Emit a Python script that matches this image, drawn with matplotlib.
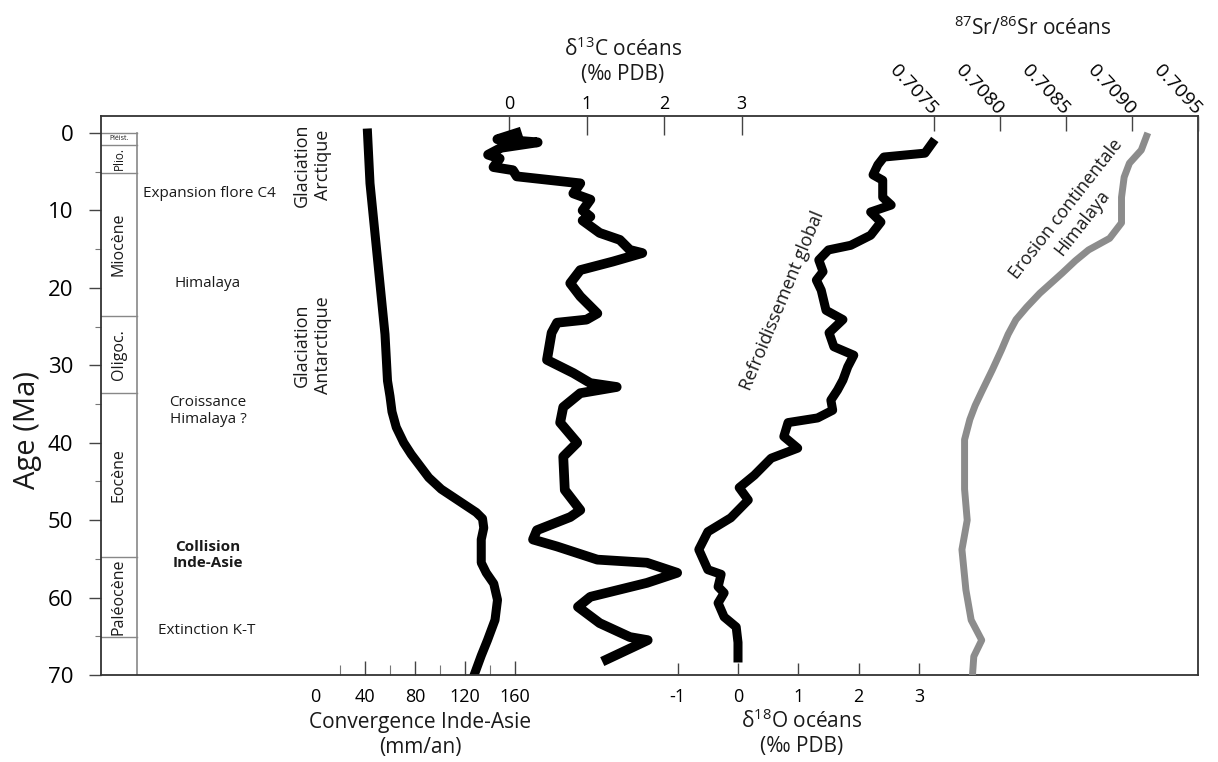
import numpy as np
import matplotlib.pyplot as plt
from matplotlib import transforms

plt.rcParams['font.family'] = ['Open Sans', 'DejaVu Sans']
plt.rcParams['mathtext.fontset'] = 'custom'
plt.rcParams['mathtext.rm'] = 'Open Sans'
plt.rcParams['text.color'] = '#1a1a1a'
plt.rcParams['axes.unicode_minus'] = False

# Convergence Inde-Asie (mm/an) vs age (Ma)
conv_age = [0, 6.5, 13, 19.5, 26, 32, 34, 36, 38, 40, 41.5, 43, 44.5, 46,
            47.5, 49, 49.8, 51, 52.5, 55.5, 56.8, 58.2, 60.3, 62.9, 65.5, 67.5,
            69.7]
conv_rate = [42, 44, 48, 52, 56, 58, 60, 61.6, 65, 71, 77, 84, 91, 101,
             115, 129, 134, 135, 133, 133, 137, 143, 146, 144, 138, 133, 128]

# delta 13C oceans (permil PDB)
d13c_age = [0.0, 0.8, 1.2, 1.9, 2.8, 3.3, 4.4, 4.8, 5.6, 6.5, 7.8, 8.6, 10.0,
            10.8, 11.3, 12.9, 13.8, 15.1, 15.5, 16.6, 17.7, 19.4, 21.1, 23.3,
            24.1, 24.5, 25.8, 29.3, 31.0, 32.3, 32.8, 33.6, 35.4, 37.4, 40.0,
            41.8, 46.1, 48.7, 49.6, 51.3, 52.5, 53.4, 55.1, 55.5, 56.8, 58.1,
            59.9, 61.2, 63.3, 65.1, 65.5, 66.4, 68.0]
d13c = [0.1, -0.15, 0.37, -0.1, -0.27, -0.12, -0.2, 0.05, 0.1, 0.92, 0.83,
        1.05, 0.95, 1.05, 0.95, 1.17, 1.43, 1.56, 1.72, 1.34, 0.92, 0.79, 0.92,
        1.14, 1.0, 0.62, 0.55, 0.49, 0.83, 1.05, 1.39, 0.92, 0.7, 0.66, 0.88,
        0.7, 0.72, 0.92, 0.79, 0.36, 0.31, 0.62, 1.14, 1.78, 2.17, 1.78, 1.05,
        0.89, 1.17, 1.56, 1.79, 1.6, 1.26]

# delta 18O oceans (permil PDB)
d18o_age = [1.3, 2.6, 3.1, 4.1, 5.4, 6.1, 8.3, 9.3, 10.2, 11.5, 13.2, 14.5,
            15.1, 16.4, 17.9, 19.0, 20.3, 22.9, 24.1, 25.8, 27.6, 28.7, 30.2,
            31.9, 33.2, 34.5, 35.8, 36.8, 37.4, 39.2, 40.7, 42.0, 44.2, 45.8,
            47.4, 49.7, 51.5, 53.8, 56.4, 57.0, 58.6, 59.4, 60.7, 62.5, 63.8,
            65.8, 67.8]
d18o = [3.22, 3.1, 2.42, 2.32, 2.24, 2.4, 2.4, 2.54, 2.2, 2.37, 2.2, 1.87,
        1.5, 1.34, 1.41, 1.3, 1.38, 1.46, 1.74, 1.51, 1.59, 1.92, 1.82, 1.74,
        1.65, 1.54, 1.57, 1.32, 0.83, 0.76, 0.99, 0.55, 0.27, 0.02, 0.17,
        -0.12, -0.5, -0.65, -0.5, -0.28, -0.33, -0.23, -0.33, -0.23, -0.03,
        0.0, 0.0]

# 87Sr/86Sr oceans
sr_age = [0.4, 2.2, 3.9, 5.7, 8.3, 11.6, 13.6, 15.1, 16.5, 18.1, 20.7, 22.5,
          24.1, 26.0, 28.0, 30.6, 33.4, 35.2, 37.0, 39.6, 46.0, 50.0, 53.8,
          59.0, 62.9, 65.5, 67.6, 70.0]
sr = [0.70911, 0.70907, 0.70898, 0.70894, 0.70892, 0.70892, 0.70883, 0.70867,
      0.70857, 0.70847, 0.70830, 0.70820, 0.70812, 0.70806, 0.70801, 0.70794,
      0.70786, 0.70781, 0.70777, 0.70773, 0.70773, 0.70775, 0.70771, 0.70774,
      0.70778, 0.70786, 0.70780, 0.70779]

# geological epochs (boundaries in Ma)
epoch_bounds = [0, 1.5, 5.1, 23.6, 33.6, 54.7, 65.1, 70]
epoch_names = ['Pléist.', 'Plio.', 'Miocène', 'Oligoc.', 'Eocène', 'Paléocène', '']

conv_ticks = [0, 40, 80, 120, 160]
d13c_ticks = [0, 1, 2, 3]
d18o_ticks = [-1, 0, 1, 2, 3]
sr_ticks = [0.7075, 0.7080, 0.7085, 0.7090, 0.7095]

W, H = 1218, 762
fig = plt.figure(figsize=(W / 100, H / 100), dpi=100)
ax = fig.add_axes([101 / W, 87 / H, 1097 / W, 559 / H])

tick_col = '#444444'

# --- convergence (bottom axis) ---
ax.plot(conv_rate, conv_age, color='black', lw=6.5, solid_joinstyle='round')
ax.set_xlim(-171.2, 706.4)
ax.set_ylim(70, -2.2)

ax.set_yticks(range(0, 71, 10))
ax.set_yticks(range(5, 70, 10), minor=True)
ax.tick_params(axis='y', which='major', direction='out', length=9, width=1,
               color=tick_col, labelsize=16, pad=11)
ax.tick_params(axis='y', which='minor', direction='out', length=4, width=0.8,
               color='#777777')
for s in ax.spines.values():
    s.set_linewidth(1.3)
    s.set_color('#333333')

# --- delta 13C (top axis) ---
ax2 = ax.twiny()
ax2.plot(d13c, d13c_age, color='black', lw=7, solid_joinstyle='round')
ax2.set_xlim((101 - 509) / 77.5, (1198 - 509) / 77.5)
ax2.set_xticks(d13c_ticks)
ax2.tick_params(axis='x', direction='in', length=14, width=1, color=tick_col,
                labelsize=13, pad=2)

# --- delta 18O (bottom axis) ---
ax3 = ax.twiny()
ax3.plot(d18o, d18o_age, color='black', lw=6.5, solid_joinstyle='round')
ax3.set_xlim((101 - 738) / 60.3, (1198 - 738) / 60.3)
ax3.set_xticks(d18o_ticks)
ax3.tick_params(axis='x', bottom=True, labelbottom=True, top=False,
                labeltop=False, direction='in', length=9, width=1,
                color=tick_col, labelsize=13, pad=9)

# --- 87Sr/86Sr (top axis) ---
ax4 = ax.twiny()
ax4.plot(sr, sr_age, color='#8c8c8c', lw=5, solid_joinstyle='round')
ax4.set_xlim(0.7075 - (935 - 101) / 66 * 0.0005, 0.7095)
ax4.set_xticks(sr_ticks, ['%.4f' % t for t in sr_ticks], rotation=-47,
               ha='right', va='center', rotation_mode='anchor')
ax4.tick_params(axis='x', direction='in', length=11, width=1, color=tick_col,
                labelsize=14, pad=3)

for a in (ax2, ax3, ax4):
    for s in a.spines.values():
        s.set_visible(False)

# convergence ticks set after the twins (twiny resets the bottom ticks)
ax.set_xticks(conv_ticks)
ax.set_xticks([20, 60, 100, 140], minor=True)
ax.tick_params(axis='x', which='major', direction='in', length=10, width=1,
               color=tick_col, labelsize=13, pad=9)
ax.tick_params(axis='x', which='minor', direction='in', length=7, width=0.8,
               color='#777777')
# no tick mark at 0, only its label
ax.xaxis.get_major_ticks()[0].tick1line.set_visible(False)

# epoch column on the left of the plot
trans = transforms.blended_transform_factory(ax.transAxes, ax.transData)
col_w = (137 - 101) / 1097
ax.plot([col_w, col_w], [0, 70], transform=trans, color='#888888', lw=1.2)
for b in epoch_bounds[:-1]:
    ax.plot([0, col_w], [b, b], transform=trans, color='#888888', lw=1)
for i, name in enumerate(epoch_names):
    mid = (epoch_bounds[i] + epoch_bounds[i + 1]) / 2
    if name == 'Pléist.':
        ax.text(col_w / 2, mid, name, transform=trans, ha='center',
                va='center', fontsize=5)
    elif name == 'Plio.':
        ax.text(col_w / 2, mid, name, transform=trans, ha='center',
                va='center', fontsize=8.5, rotation=90)
    else:
        ax.text(col_w / 2, mid, name, transform=trans, ha='center',
                va='center', fontsize=11.5, rotation=90)

# annotations
ax.text(0.0985, 7.75, 'Expansion flore C4', transform=trans, ha='center',
        va='center', fontsize=11)
ax.text(0.0975, 19.4, 'Himalaya', transform=trans, ha='center', va='center',
        fontsize=11)
ax.text(0.0975, 35.9, 'Croissance\nHimalaya ?', transform=trans, ha='center',
        va='center', fontsize=11)
ax.text(0.0975, 54.5, 'Collision\nInde-Asie', transform=trans, ha='center',
        va='center', fontsize=11, fontweight='bold')
ax.text(0.0966, 64.2, 'Extinction K-T', transform=trans, ha='center',
        va='center', fontsize=11)
ax.text(0.193, 4.1, 'Glaciation\nArctique', transform=trans, ha='center',
        va='center', fontsize=13, rotation=90)
ax.text(0.193, 27.4, 'Glaciation\nAntarctique', transform=trans, ha='center',
        va='center', fontsize=13, rotation=90)
ax.text(0.621, 21.6, 'Refroidissement global', transform=trans, ha='center',
        va='center', fontsize=13, rotation=67.5)
ax.text(0.887, 10.7, 'Erosion continentale\nHimalaya', transform=trans,
        ha='center', va='center', fontsize=13, rotation=52)

# axis titles
fig.text(27 / W, 1 - 430 / H, 'Age (Ma)', rotation=90, ha='center',
         va='center', fontsize=21)
fig.text(420 / W, 1 - 735 / H, 'Convergence Inde-Asie\n(mm/an)', ha='center',
         va='center', fontsize=15)
fig.text(802 / W, 1 - 733 / H, 'δ$^{18}$O océans\n(‰ PDB)', ha='center',
         va='center', fontsize=15)
fig.text(623 / W, 1 - 61 / H, 'δ$^{13}$C océans\n(‰ PDB)', ha='center',
         va='center', fontsize=15)
fig.text(1033 / W, 1 - 28 / H, '$^{87}$Sr/$^{86}$Sr océans', ha='center',
         va='center', fontsize=15)

fig.savefig('out.png', dpi=100)
